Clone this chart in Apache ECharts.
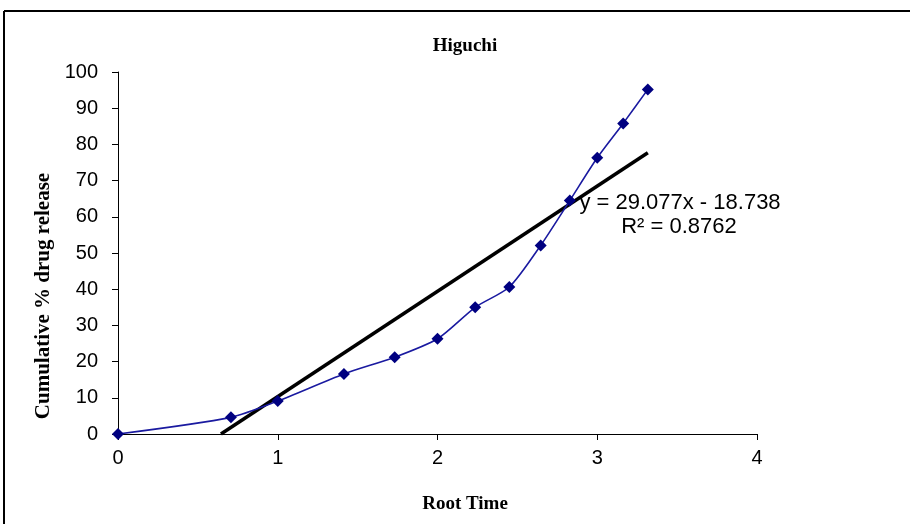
<!DOCTYPE html>
<html>
<head>
<meta charset="utf-8">
<script src="https://cdn.jsdelivr.net/npm/echarts@6/dist/echarts.min.js"></script>
<style>
html,body{margin:0;padding:0;background:#fff;}
#chart{width:910px;height:524px;}
</style>
</head>
<body>
<div id="chart"></div>
<script>
var rootTime = [0, 0.7071, 1, 1.4142, 1.7321, 2, 2.2361, 2.4495, 2.6458, 2.8284, 3, 3.1623, 3.3166];
var release = [0, 4.6, 9.1, 16.6, 21.2, 26.3, 35.0, 40.6, 52.1, 64.5, 76.3, 85.8, 95.2];
var slope = 29.077;
var intercept = -18.738;
var xTicks = [0, 1, 2, 3, 4];
var yTicks = [0, 10, 20, 30, 40, 50, 60, 70, 80, 90, 100];

var points = rootTime.map(function (x, i) { return [x, release[i]]; });
var xStart = -intercept / slope;
var xEnd = rootTime[rootTime.length - 1];
var trend = [[xStart, slope * xStart + intercept], [xEnd, slope * xEnd + intercept]];

var serif = 'Liberation Serif';
var sans = 'Liberation Sans';

var chart = echarts.init(document.getElementById('chart'));
chart.setOption({
  backgroundColor: '#fff',
  animation: false,
  grid: { left: 118, right: 153, top: 72, bottom: 90 },
  xAxis: {
    type: 'value', min: 0, max: 4, interval: 1,
    axisLine: { lineStyle: { color: '#000', width: 1 } },
    axisTick: { show: true, length: 6, lineStyle: { color: '#000' } },
    axisLabel: { fontFamily: sans, fontSize: 20, color: '#000', margin: 14,
      formatter: function (v) { return xTicks.indexOf(v) >= 0 ? String(v) : ''; } },
    splitLine: { show: false }
  },
  yAxis: {
    type: 'value', min: 0, max: 100, interval: 10,
    axisLine: { show: true, lineStyle: { color: '#000', width: 1 } },
    axisTick: { show: true, length: 6, lineStyle: { color: '#000' } },
    axisLabel: { fontFamily: sans, fontSize: 20, color: '#000', margin: 20,
      formatter: function (v) { return yTicks.indexOf(v) >= 0 ? String(v) : ''; } },
    splitLine: { show: false }
  },
  graphic: [
    { type: 'line', shape: { x1: 4, y1: 11, x2: 910, y2: 11 }, style: { stroke: '#000', lineWidth: 2 } },
    { type: 'line', shape: { x1: 4, y1: 11, x2: 4, y2: 524 }, style: { stroke: '#000', lineWidth: 2 } },
    { type: 'text', x: 465, y: 46,
      style: { text: 'Higuchi', fontFamily: serif, fontWeight: 'bold', fontSize: 19,
        fill: '#000', textAlign: 'center', textVerticalAlign: 'middle' } },
    { type: 'text', x: 465, y: 504,
      style: { text: 'Root Time', fontFamily: serif, fontWeight: 'bold', fontSize: 19,
        fill: '#000', textAlign: 'center', textVerticalAlign: 'middle' } },
    { type: 'text', x: 44, y: 296, rotation: Math.PI / 2,
      style: { text: 'Cumulative % drug release', fontFamily: serif, fontWeight: 'bold',
        fontSize: 21, fill: '#000', textAlign: 'center', textVerticalAlign: 'middle' } },
    { type: 'text', x: 680, y: 203,
      style: { text: 'y = 29.077x - 18.738', fontFamily: sans, fontSize: 22,
        fill: '#000', textAlign: 'center', textVerticalAlign: 'middle' } },
    { type: 'text', x: 679, y: 227,
      style: { text: 'R² = 0.8762', fontFamily: sans, fontSize: 22,
        fill: '#000', textAlign: 'center', textVerticalAlign: 'middle' } }
  ],
  series: [
    {
      type: 'line', data: points, smooth: 0.25,
      symbol: 'diamond', symbolSize: 12,
      lineStyle: { color: '#1a1aa0', width: 1.6 },
      itemStyle: { color: '#000080' },
      z: 3
    },
    {
      type: 'line', data: trend, symbol: 'none',
      lineStyle: { color: '#000', width: 3.5 },
      z: 2
    }
  ]
});
</script>
</body>
</html>
